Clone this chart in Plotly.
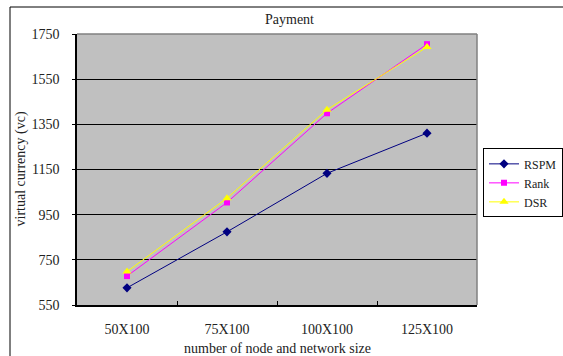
import plotly.graph_objects as go

# Network configurations on the x axis
sizes = ["50X100", "75X100", "100X100", "125X100"]

# Payment (virtual currency) per scheme
rspm = [626, 874, 1133, 1311]
rank = [678, 1004, 1399, 1705]
dsr = [698, 1023, 1415, 1692]

y_ticks = [550, 750, 950, 1150, 1350, 1550, 1750]

FONT = "Liberation Serif, Times New Roman, serif"

fig = go.Figure()
fig.add_trace(go.Scatter(
    x=sizes, y=rspm, name="RSPM", mode="lines+markers",
    line=dict(color="#000080", width=1),
    marker=dict(symbol="diamond", size=7, color="#000080"),
))
fig.add_trace(go.Scatter(
    x=sizes, y=rank, name="Rank", mode="lines+markers",
    line=dict(color="#FF00FF", width=1),
    marker=dict(symbol="square", size=6, color="#FF00FF"),
))
fig.add_trace(go.Scatter(
    x=sizes, y=dsr, name="DSR", mode="lines+markers",
    line=dict(color="#FFFF00", width=1),
    marker=dict(symbol="triangle-up", size=8, color="#FFFF00"),
))

fig.update_layout(
    width=563, height=356,
    margin=dict(l=77, r=86, t=34, b=51, autoexpand=False),
    paper_bgcolor="white",
    plot_bgcolor="#C0C0C0",
    font=dict(family=FONT, size=14, color="#222222"),
    showlegend=True,
    legend=dict(
        x=1.015, y=0.578, xanchor="left", yanchor="top",
        bgcolor="white", bordercolor="black", borderwidth=1,
        font=dict(family=FONT, size=12, color="#222222"),
        tracegroupgap=0, itemwidth=30,
    ),
    xaxis=dict(
        type="category", range=[-0.5, 3.5],
        tickson="boundaries", ticks="inside", ticklen=4, tickcolor="black",
        showline=True, linecolor="black", linewidth=1.5,
        showgrid=False, zeroline=False, ticklabelstandoff=10,
    ),
    yaxis=dict(
        range=[550, 1750], tickvals=y_ticks,
        ticks="outside", ticklen=3, tickcolor="black",
        showline=True, linecolor="black", linewidth=1.5,
        showgrid=True, gridcolor="black", gridwidth=1,
        zeroline=False, ticklabelstandoff=10,
    ),
    shapes=[
        # plot area top and right edges
        dict(type="line", xref="paper", yref="paper", x0=0, x1=1, y0=1, y1=1,
             line=dict(color="#808080", width=1.5)),
        dict(type="line", xref="paper", yref="paper", x0=1, x1=1, y0=0, y1=1,
             line=dict(color="#808080", width=1.5)),
        # chart area frame
        dict(type="line", xref="paper", yref="paper", x0=-0.1675, x1=1.25,
             y0=1.0996, y1=1.0996, line=dict(color="black", width=1)),
        dict(type="line", xref="paper", yref="paper", x0=-0.1675, x1=-0.1675,
             y0=-0.2, y1=1.0996, line=dict(color="black", width=1)),
    ],
    annotations=[
        dict(text="Payment", xref="paper", yref="paper", x=0.53, y=1.0517,
             showarrow=False, xanchor="center", yanchor="middle",
             font=dict(family=FONT, size=14)),
        dict(text="virtual currency (vc)", xref="paper", yref="paper",
             x=-0.1425, y=0.5, textangle=-90, showarrow=False,
             xanchor="center", yanchor="middle",
             font=dict(family=FONT, size=14)),
        dict(text="number of node and network size", xref="paper", yref="paper",
             x=0.5, y=-0.1587, showarrow=False, xanchor="center",
             yanchor="middle", font=dict(family=FONT, size=14)),
    ],
)

fig.write_html("out.html")
